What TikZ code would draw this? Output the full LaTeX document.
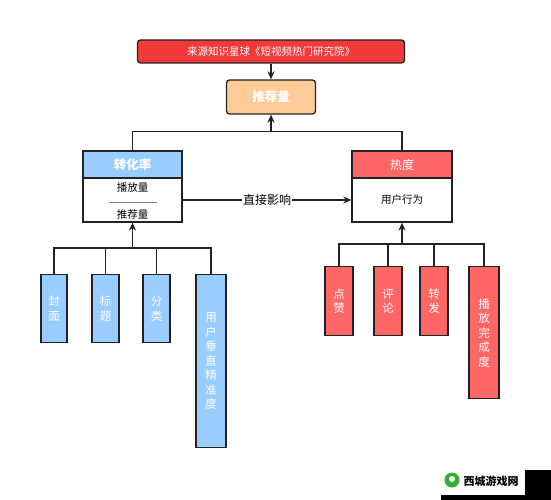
\documentclass[tikz,border=0pt]{standalone}
\usepackage{fontspec}
\setmainfont{Noto Sans CJK SC}
\usetikzlibrary{arrows.meta}
\definecolor{topred}{HTML}{F23A3A}
\definecolor{peach}{HTML}{FFCC99}
\definecolor{lblue}{HTML}{99CCFF}
\definecolor{lred}{HTML}{FF6666}
\definecolor{ink}{HTML}{222222}
\begin{document}
\begin{tikzpicture}[x=1pt,y=-1pt,
  box/.style={draw=ink,line width=1.3pt,inner sep=0pt,font=\fontsize{11.5}{14.5}\selectfont,align=center},
  bluebar/.style={box,fill=lblue,text=white},
  redbar/.style={box,fill=lred,text=white},
  conn/.style={draw=ink,line width=1.3pt},
  arr/.style={conn,-{Stealth[length=8pt,width=7pt]}}]
\useasboundingbox (0,0) rectangle (551,500);
\fill[white] (0,0) rectangle (551,500);
% top source
\node[box,fill=topred,text=white,rounded corners=3pt,minimum width=267pt,minimum height=23pt,font=\fontsize{10.5}{12}\selectfont] (src) at (271,51.5) {来源知识星球《短视频热门研究院》};
\node[box,fill=peach,text=white,rounded corners=3pt,minimum width=89pt,minimum height=34pt,font=\fontsize{12.5}{14}\selectfont\bfseries] (rec) at (271,97) {推荐量};
\draw[arr] (src.south) -- (rec.north);
% conversion box
\node[box,fill=lblue,text=white,minimum width=99pt,minimum height=27pt,font=\fontsize{12.5}{14}\selectfont\bfseries] (convh) at (132.5,164.5) {转化率};
\node[box,minimum width=99pt,minimum height=44pt] (convb) at (132.5,200) {};
\node[font=\fontsize{10.5}{12}\selectfont] (c1) at (132.5,188) {播放量};
\node[font=\fontsize{10.5}{12}\selectfont] (c2) at (132.5,214.5) {推荐量};
\draw[gray,line width=0.8pt] (109,202) -- (157,202);
% heat box
\node[box,fill=lred,text=white,minimum width=100pt,minimum height=27pt,font=\fontsize{12}{14}\selectfont] (heath) at (402,164.5) {热度};
\node[box,minimum width=100pt,minimum height=44pt,font=\fontsize{10.5}{12}\selectfont] (heatb) at (402,200) {用户行为};
% connections top
\coordinate (jt) at (271,132);
\draw[conn] (convh.north) -- ++(0,-19) -| (heath.north);
\draw[arr] (jt) -- (rec.south);
\draw[arr] (convb.east) -- node[fill=white,inner sep=1pt,font=\fontsize{12}{13}\selectfont] (lab) {直接影响} (heatb.west);
% left leaves
\node[bluebar,minimum width=26pt,minimum height=68pt,anchor=north] (b1) at (54,274) {封\\面};
\node[bluebar,minimum width=27pt,minimum height=68pt,anchor=north] (b2) at (105.5,274) {标\\题};
\node[bluebar,minimum width=27pt,minimum height=68pt,anchor=north] (b3) at (156.5,274) {分\\类};
\node[bluebar,minimum width=30pt,minimum height=173pt,anchor=north] (b4) at (211,274) {用\\户\\垂\\直\\精\\准\\度};
\coordinate (jl) at (132.5,248);
\draw[conn] (b1.north) -- ++(0,-26) -| (b4.north);
\draw[conn] (b2.north) -- ++(0,-26);
\draw[conn] (b3.north) -- ++(0,-26);
\draw[arr] (jl) -- (convb.south);
% right leaves
\node[redbar,minimum width=28pt,minimum height=69pt,anchor=north] (r1) at (339,266) {点\\赞};
\node[redbar,minimum width=28pt,minimum height=69pt,anchor=north] (r2) at (388,266) {评\\论};
\node[redbar,minimum width=28pt,minimum height=69pt,anchor=north] (r3) at (434,266) {转\\发};
\node[redbar,minimum width=30pt,minimum height=132pt,anchor=north] (r4) at (484,266) {播\\放\\完\\成\\度};
\coordinate (jr) at (402,244);
\draw[conn] (r1.north) -- ++(0,-22) -| (r4.north);
\draw[conn] (r2.north) -- ++(0,-22);
\draw[conn] (r3.north) -- ++(0,-22);
\draw[arr] (jr) -- (heatb.south);
% watermark
\fill[black] (525,470) -- (551,470) -- (551,500) -- (441,500) -- (441,495) -- (525,495) -- cycle;
\fill[green!60!black!80] (452,480) circle (7.5pt);
\fill[white] (452,479) circle (3pt);
\node[font=\fontsize{11}{12}\selectfont\bfseries,inner sep=0pt] (wm) at (491,481) {西城游戏网};
\end{tikzpicture}
\end{document}
